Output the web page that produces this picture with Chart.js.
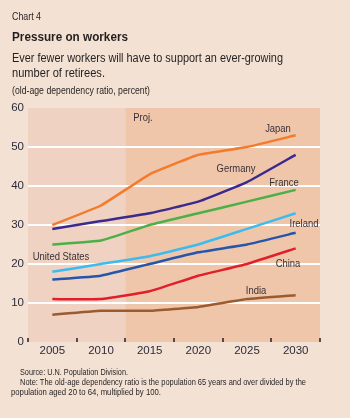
<!DOCTYPE html>
<html>
<head>
<meta charset="utf-8">
<script src="https://cdn.jsdelivr.net/npm/chart.js@4.4.0/dist/chart.umd.min.js"></script>
<style>
  html, body { margin: 0; padding: 0; background: #f3e2d4; }
  #wrap { position: relative; width: 350px; height: 418px; overflow: hidden;
          font-family: "Liberation Sans", Arial, sans-serif; color: #231f20; }
  canvas { position: absolute; left: 0; top: 0; }
  .t { position: absolute; white-space: nowrap; line-height: 1; transform-origin: 0 0; }
  #kicker { left: 12px; top: 11px; font-size: 10.5px; }
  #title { left: 12px; top: 30px; font-size: 13.5px; font-weight: bold; }
  #sub1 { left: 12px; top: 51.5px; font-size: 12.5px; }
  #sub2 { left: 12px; top: 66.5px; font-size: 12.5px; }
  #unit { left: 12px; top: 85px; font-size: 10.5px; }
  .foot { font-size: 9px; }
  #foot1 { left: 20px; top: 368px; }
  #foot2 { left: 20px; top: 377.5px; }
  #foot3 { left: 11px; top: 388px; }
</style>
</head>
<body>
<div id="wrap">
  <canvas id="myChart" width="350" height="418"></canvas>
  <div class="t" id="kicker" data-w="29">Chart 4</div>
  <div class="t" id="title" data-w="116">Pressure on workers</div>
  <div class="t" id="sub1" data-w="271">Ever fewer workers will have to support an ever-growing</div>
  <div class="t" id="sub2" data-w="93">number of retirees.</div>
  <div class="t" id="unit" data-w="138">(old-age dependency ratio, percent)</div>
  <div class="t foot" id="foot1" data-w="108">Source: U.N. Population Division.</div>
  <div class="t foot" id="foot2" data-w="286">Note: The old-age dependency ratio is the population 65 years and over divided by the</div>
  <div class="t foot" id="foot3" data-w="150">population aged 20 to 64, multiplied by 100.</div>
</div>
<script>
const years = ['2005', '2010', '2015', '2020', '2025', '2030'];
const japan = [30, 35, 43, 48, 50, 53];
const germany = [29, 31, 33, 36, 41, 48];
const france = [25, 26, 30, 33, 36, 39];
const unitedStates = [18, 20, 22, 25, 29, 33];
const ireland = [16, 17, 20, 23, 25, 28];
const china = [11, 11, 13, 17, 20, 24];
const india = [7, 8, 8, 9, 11, 12];
const yTicks = [0, 10, 20, 30, 40, 50, 60];

// where the line names sit (pixels)
const lineLabels = [
    { text: 'Japan', x: 278, y: 129 },
    { text: 'Germany', x: 236, y: 169 },
    { text: 'France', x: 284, y: 183 },
    { text: 'Ireland', x: 304, y: 224 },
    { text: 'United States', x: 61, y: 257 },
    { text: 'China', x: 288, y: 264 },
    { text: 'India', x: 256, y: 291 }
];

const fontFamily = '"Liberation Sans", Arial, sans-serif';

// the original uses a condensed face, so squeeze the html text to the widths it had
document.querySelectorAll('.t').forEach(el => {
    const w = el.getBoundingClientRect().width;
    el.style.transform = 'scaleX(' + (el.dataset.w / w) + ')';
});

function narrowText(ctx, text, x, y) {
    ctx.save();
    ctx.translate(x, y);
    ctx.scale(0.82, 1);
    ctx.fillText(text, 0, 0);
    ctx.restore();
}

const backdrop = {
    id: 'backdrop',
    beforeDraw(chart) {
        const { ctx, chartArea: a } = chart;
        ctx.save();
        ctx.fillStyle = '#f3e2d4';
        ctx.fillRect(0, 0, chart.width, chart.height);
        const step = (a.right - a.left) / years.length;
        const split = a.left + step * 2;
        ctx.fillStyle = '#efd2c1';
        ctx.fillRect(a.left, a.top, split - a.left, a.bottom - a.top);
        ctx.fillStyle = '#efc6aa';
        ctx.fillRect(split, a.top, a.right - split, a.bottom - a.top);
        ctx.restore();
    },
    afterDatasetsDraw(chart) {
        const { ctx, chartArea: a } = chart;
        const step = (a.right - a.left) / years.length;
        ctx.save();
        ctx.strokeStyle = '#231f20';
        ctx.lineWidth = 1.5;
        for (let i = 0; i <= years.length; i++) {
            const x = Math.round(a.left + step * i);
            ctx.beginPath();
            ctx.moveTo(x, a.bottom - 4);
            ctx.lineTo(x, a.bottom);
            ctx.stroke();
        }
        ctx.fillStyle = '#3a3036';
        ctx.font = '11.5px ' + fontFamily;
        ctx.textAlign = 'center';
        ctx.textBaseline = 'middle';
        lineLabels.forEach(l => narrowText(ctx, l.text, l.x, l.y));
        ctx.textAlign = 'left';
        narrowText(ctx, 'Proj.', a.left + step * 2 + 8, 118);
        ctx.restore();
    }
};

const ctx = document.getElementById('myChart');
const chart = new Chart(ctx, {
    type: 'line',
    data: {
        labels: years,
        datasets: [
            { label: 'Japan', data: japan, borderColor: '#f47a2c' },
            { label: 'Germany', data: germany, borderColor: '#3b2a8e' },
            { label: 'France', data: france, borderColor: '#4cb048' },
            { label: 'United States', data: unitedStates, borderColor: '#3cbcee' },
            { label: 'Ireland', data: ireland, borderColor: '#2656ab' },
            { label: 'China', data: china, borderColor: '#e11f2b' },
            { label: 'India', data: india, borderColor: '#9b5b30' }
        ]
    },
    options: {
        responsive: false,
        animation: false,
        layout: { padding: { left: 0, right: 30, top: 108, bottom: 0 } },
        elements: {
            line: { borderWidth: 2.5, tension: 0.1 },
            point: { radius: 0 }
        },
        plugins: {
            legend: { display: false },
            tooltip: { enabled: false }
        },
        scales: {
            x: {
                offset: true,
                grid: { display: false, drawTicks: false },
                border: { display: false },
                ticks: { color: '#2d2a3a', font: { family: fontFamily, size: 11.5 }, padding: 2, maxRotation: 0 },
                afterFit(scale) { scale.height = 76; }
            },
            y: {
                min: 0,
                max: 60,
                afterBuildTicks(scale) { scale.ticks = yTicks.map(v => ({ value: v })); },
                grid: {
                    drawTicks: false,
                    lineWidth: 2,
                    color: c => (c.tick && c.tick.value > 0 && c.tick.value < 60) ? '#ffffff' : 'rgba(0,0,0,0)'
                },
                border: { display: false },
                ticks: { color: '#2d2a3a', font: { family: fontFamily, size: 11.5 }, padding: 4 },
                afterFit(scale) { scale.width = 28; }
            }
        }
    },
    plugins: [backdrop]
});
</script>
</body>
</html>
